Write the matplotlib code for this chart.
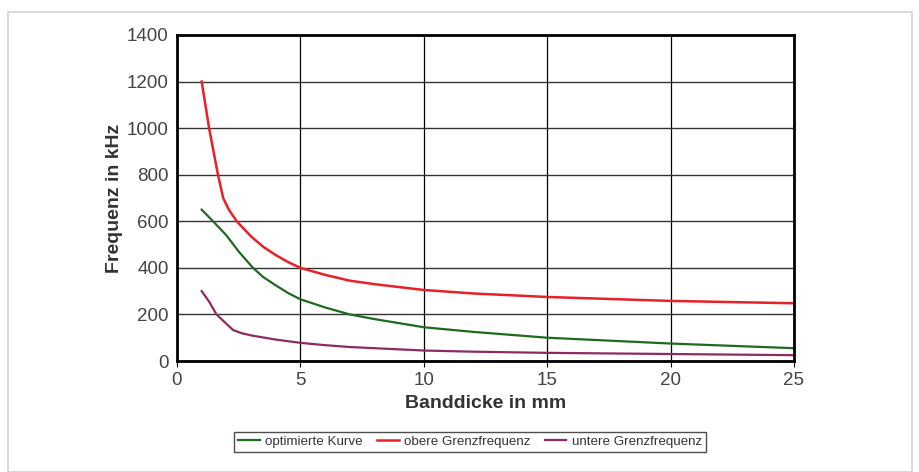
import matplotlib
matplotlib.use("Agg")
import matplotlib.pyplot as plt
from matplotlib.patches import Rectangle

plt.rcParams['font.family'] = ['Liberation Sans', 'DejaVu Sans']

# Values
dicke_o = [1, 1.3, 1.66, 1.87, 2.1, 2.42, 3, 3.5, 4, 4.5, 5, 6, 7, 8, 10, 12, 15, 20, 25]
obere = [1200, 1000, 800, 700, 650, 600, 535, 490, 455, 425, 400, 370, 345, 330, 305, 290, 275, 258, 248]

dicke_m = [1, 1.46, 2, 2.5, 3.08, 3.5, 4, 4.5, 5, 6, 7, 8, 10, 12, 15, 20, 25]
optimiert = [650, 600, 540, 470, 400, 360, 325, 292, 265, 230, 200, 180, 145, 125, 100, 75, 55]

dicke_u = [1, 1.3, 1.6, 2, 2.27, 2.6, 3, 4, 5, 6, 7, 8, 10, 12, 15, 20, 25]
untere = [300, 255, 200, 160, 133, 120, 110, 92, 78, 68, 60, 55, 45, 40, 35, 30, 25]

fig = plt.figure(figsize=(9.2, 4.72), dpi=100)
fig.patches.append(Rectangle((8 / 920, 0), 904 / 920, 1 - 12 / 472, transform=fig.transFigure,
                             fill=False, edgecolor='#cfd4d8', linewidth=1.2))
ax = fig.add_axes([177 / 920, 1 - 361 / 472, 617 / 920, 326 / 472])

ax.plot(dicke_m, optimiert, color='#1e6b1e', lw=1.6, label='optimierte Kurve')
ax.plot(dicke_o, obere, color='#e8202a', lw=1.8, label='obere Grenzfrequenz')
ax.plot(dicke_u, untere, color='#8e2a63', lw=1.6, label='untere Grenzfrequenz')

ax.set_xlim(0, 25)
ax.set_ylim(0, 1400)
ax.set_xticks(range(0, 26, 5))
ax.set_yticks(range(0, 1401, 200))
ax.grid(axis='x', color='black', lw=0.9)
ax.grid(axis='y', color='#333333', lw=1.0)
ax.set_axisbelow(True)
for s in ax.spines.values():
    s.set_linewidth(2)
ax.tick_params(axis='y', length=0, pad=6, labelsize=13.5, labelcolor='#444444')
ax.tick_params(axis='x', length=4, pad=4, labelsize=13.5, labelcolor='#444444')

ax.set_xlabel('Banddicke in mm', fontsize=14, fontweight='bold', color='#333333', labelpad=4)
ax.set_ylabel('Frequenz in kHz', fontsize=14, fontweight='bold', color='#333333', labelpad=3)

leg = fig.legend(loc='center', bbox_to_anchor=(470 / 920, 1 - 442 / 472), ncol=3,
                 fontsize=9.6, frameon=True, fancybox=False, edgecolor='#222222',
                 handlelength=1.6, handletextpad=0.4, columnspacing=1.1,
                 borderpad=0.3)
leg.get_frame().set_linewidth(1.0)
for t in leg.get_texts():
    t.set_color('#333333')

fig.savefig('out.png', dpi=100)
